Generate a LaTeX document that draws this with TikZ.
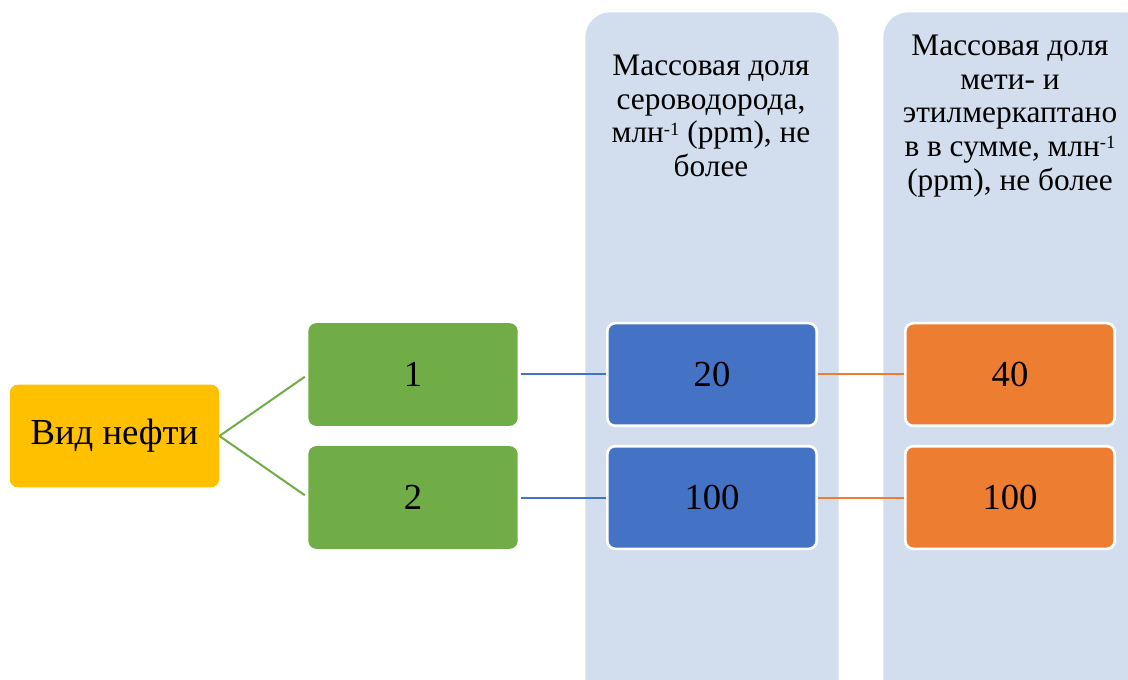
\documentclass[tikz,border=0pt]{standalone}
\usepackage{fontspec}
\setmainfont{LiberationSerif}[Extension=.ttf,UprightFont=*-Regular]
\usetikzlibrary{positioning}
\definecolor{oilyellow}{HTML}{FFC000}
\definecolor{kindgreen}{HTML}{70AD47}
\definecolor{hsblue}{HTML}{4472C4}
\definecolor{rshorange}{HTML}{ED7D31}
\definecolor{bandblue}{HTML}{D2DDEE}
\newcommand{\powm}{\raisebox{0.55ex}{\fontsize{14}{14}\selectfont -1}}
\tikzset{
  box/.style={
    rectangle,rounded corners=6pt,minimum width=157pt,minimum height=77pt,
    align=center,font=\fontsize{27.5}{30}\selectfont
  },
  valbox/.style={box,draw=white,line width=2pt,minimum width=157pt,minimum height=77pt},
  band/.style={rectangle,rounded corners=19pt,fill=bandblue,minimum width=190pt,minimum height=560pt},
  head/.style={align=center,font=\fontsize{23.5}{25.3}\selectfont},
  link/.style={line width=1.5pt}
}

\begin{document}
\begin{tikzpicture}[x=0.75pt,y=0.75pt]
\clip (0,0) rectangle (1128,679);

\node[band,anchor=north west] (colA) at (585,667) {};
\node[band,anchor=north west,minimum width=200pt] (colB) at (883,667) {};

\node[head] (headA) at (711,563) {
Массовая доля\\
сероводорода,\\
млн\powm{} (ppm), не\\
более
};
\node[head] (headB) at (1010,563) {
Массовая доля\\
мети- и\\
этилмеркаптано\\
в в сумме, млн\powm\\
(ppm), не более
};

\node[box,fill=oilyellow] (oil) at (114.5,243) {Вид нефти};
\node[box,fill=kindgreen] (k1) at (413,304.5) {1};
\node[box,fill=kindgreen] (k2) at (413,181.5) {2};

\node[valbox,fill=hsblue] (h1) at (712,304.5) {20};
\node[valbox,fill=hsblue] (h2) at (712,181.5) {100};
\node[valbox,fill=rshorange] (r1) at (1010,304.5) {40};
\node[valbox,fill=rshorange] (r2) at (1010,181.5) {100};

\draw[link,kindgreen,shorten >=3pt] (oil.east) -- (k1.west);
\draw[link,kindgreen,shorten >=3pt] (oil.east) -- (k2.west);
\draw[link,hsblue,shorten <=2pt] (k1.east) -- (h1.west);
\draw[link,hsblue,shorten <=2pt] (k2.east) -- (h2.west);
\draw[link,rshorange] (h1.east) -- (r1.west);
\draw[link,rshorange] (h2.east) -- (r2.west);

\end{tikzpicture}
\end{document}
